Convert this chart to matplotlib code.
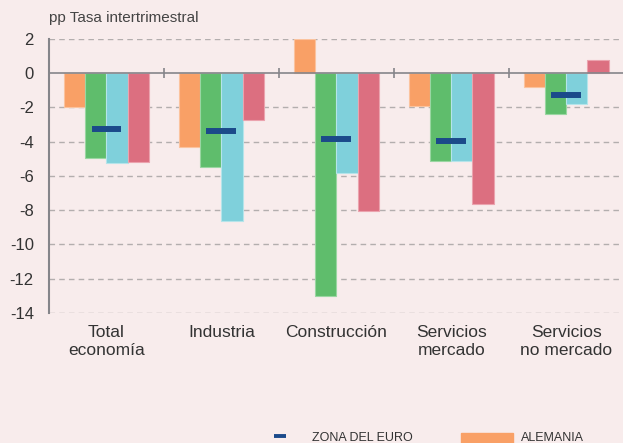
import numpy as np
import matplotlib.pyplot as plt
from matplotlib.lines import Line2D
from matplotlib.patches import Rectangle

categories = ["Total\neconomía", "Industria", "Construcción", "Servicios\nmercado", "Servicios\nno mercado"]
alemania = [-2.0, -4.3, 2.0, -1.9, -0.8]
serie2 = [-4.95, -5.5, -13.0, -5.1, -2.4]
serie3 = [-5.25, -8.6, -5.8, -5.15, -1.8]
serie4 = [-5.2, -2.75, -8.05, -7.65, 0.8]
zona_euro = [-3.25, -3.35, -3.85, -3.95, -1.3]
legend_labels = ["ZONA DEL EURO", "ALEMANIA"]

bg = "#F8ECEC"
euro_col = "#1B4A8A"
colors = ["#F9A066", "#5FBD6C", "#7FD0DB", "#DC6F80"]
edge = ["#FBC39E", "#9AD6A2", "#B5E4EA", "#EBA3AE"]

plt.rcParams['font.family'] = ['Liberation Sans', 'DejaVu Sans']
plt.rcParams['axes.unicode_minus'] = False

fig = plt.figure(figsize=(6.23, 4.43), dpi=100, facecolor=bg)
ax = fig.add_axes([0.0787, 0.2935, 0.928, 0.6185], facecolor=bg)

x = np.arange(len(categories))
w = 0.184
for i, vals in enumerate([alemania, serie2, serie3, serie4]):
    ax.bar(x + (i - 1.5) * w, vals, width=w, color=colors[i],
           edgecolor=edge[i], linewidth=0.8, zorder=3)

# zona euro as short horizontal marks
for xi, v in zip(x, zona_euro):
    ax.plot([xi - 0.13, xi + 0.13], [v, v], color=euro_col, lw=4.3,
            solid_capstyle='butt', zorder=4)

ax.set_xlim(-0.5, 4.53)
ax.set_ylim(-14, 2)
ax.set_yticks(range(-14, 3, 2))
for y in range(-14, 3, 2):
    if y != 0:
        ax.axhline(y, color="#B3AEAE", lw=1.0, ls=(0, (4, 3)), zorder=1)
ax.axhline(0, color="#85858A", lw=1.2, zorder=5)
ax.vlines(x[:-1] + 0.5, -0.3, 0.3, color="#85858A", lw=1.2, zorder=5)

for s in ["top", "right", "bottom"]:
    ax.spines[s].set_visible(False)
ax.spines["left"].set_color("#85858A")
ax.spines["left"].set_linewidth(1.5)

ax.set_xticks(x)
ax.set_xticklabels(categories, fontsize=12.5, color="#333333", linespacing=1.25)
ax.tick_params(axis="x", length=0, pad=9)
ax.tick_params(axis="y", length=0, pad=11, labelsize=12, labelcolor="#333333")

fig.text(0.0787, 0.96, "pp Tasa intertrimestral", fontsize=11, color="#444444",
         ha="left", va="center")

# legend (only the first row fits in the frame)
fig.add_artist(Line2D([274 / 623, 286 / 623], [0.016, 0.016], color=euro_col,
                      lw=2.8, solid_capstyle='butt'))
fig.add_artist(Rectangle((461 / 623, 0.0), 52 / 623, 0.0226, color=colors[0]))
for xt, lab in zip([312 / 623, 521 / 623], legend_labels):
    fig.text(xt, 0.011, lab, fontsize=9, color="#333333", ha="left", va="center")

fig.savefig("out.png", dpi=100, facecolor=bg)
